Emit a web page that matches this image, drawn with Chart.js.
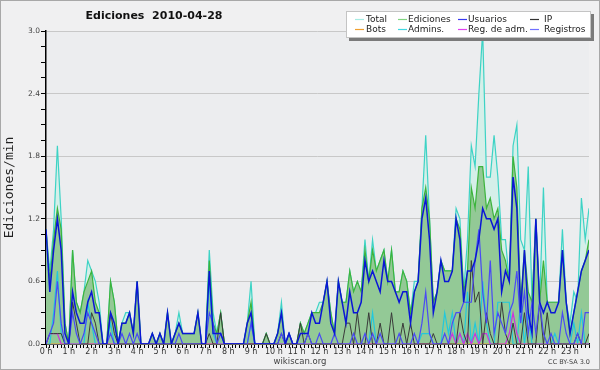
<!DOCTYPE html>
<html>
<head>
<meta charset="utf-8">
<title>Ediciones 2010-04-28</title>
<script src="https://cdn.jsdelivr.net/npm/chart.js@4.4.0/dist/chart.umd.min.js"></script>
<style>
  html, body { margin: 0; padding: 0; background: #f0f0f1; }
  #wrap { width: 600px; height: 370px; }
</style>
</head>
<body>
<div id="wrap"><canvas id="chart" width="600" height="370"></canvas></div>
<script>
// one value per 10 minutes (edits/min), 144 slots
const hourLabels = ['0 h','1 h','2 h','3 h','4 h','5 h','6 h','7 h','8 h','9 h','10 h','11 h',
  '12 h','13 h','14 h','15 h','16 h','17 h','18 h','19 h','20 h','21 h','22 h','23 h'];

const total = [
  1.1,0.7,1.1,1.9,1.2,0.2, 0,0.9,0.4,0.3,0.5,0.8, 0.7,0.6,0.4,0,0,0.6, 0.4,0,0.2,0.3,0.3,0.1,
  0.6,0,0,0,0.1,0, 0.1,0,0.3,0,0.1,0.3, 0.1,0.1,0.1,0.1,0.3,0, 0,0.9,0.3,0.1,0.3,0,
  0,0,0,0,0,0.2, 0.6,0,0,0,0.1,0, 0,0.1,0.4,0,0.1,0, 0,0.2,0.1,0.2,0.3,0.3,
  0.4,0.4,0.6,0.3,0.1,0.6, 0.4,0.4,0.7,0.5,0.6,0.5, 1.0,0.6,1.0,0.7,0.8,0.9, 0.6,0.9,0.5,0.5,0.7,0.6,
  0.3,0.6,0.6,1.3,2.0,1.2, 0.4,0.5,0.8,0.7,0.7,0.7, 1.3,1.2,0.5,1.0,1.9,1.7, 2.4,3.0,1.6,1.6,2.0,1.6,
  1.0,1.0,0.6,1.9,2.1,1.0, 0.9,1.7,0.4,1.2,0.4,1.5, 0.4,0.4,0.4,0.4,1.1,0.4, 0.2,0.5,0.4,1.4,1.0,1.3
];
const ediciones = [
  1.1,0.6,1.0,1.3,1.1,0.2, 0,0.9,0.4,0.3,0.5,0.6, 0.7,0.4,0.3,0,0,0.6, 0.4,0,0.2,0.2,0.3,0.1,
  0.6,0,0,0,0.1,0, 0.1,0,0.3,0,0.1,0.2, 0.1,0.1,0.1,0.1,0.3,0, 0,0.8,0.2,0.1,0.3,0,
  0,0,0,0,0,0.2, 0.4,0,0,0,0.1,0, 0,0.1,0.3,0,0.1,0, 0,0.2,0.1,0.2,0.3,0.3,
  0.3,0.4,0.6,0.3,0.1,0.6, 0.4,0.4,0.7,0.5,0.6,0.5, 0.9,0.6,0.9,0.7,0.8,0.9, 0.6,0.9,0.5,0.5,0.7,0.6,
  0.3,0.5,0.6,1.3,1.5,1.2, 0.4,0.5,0.8,0.7,0.7,0.7, 1.2,1.1,0.5,0.7,1.5,1.3, 1.7,1.7,1.3,1.4,1.2,1.3,
  0.9,0.8,0.6,1.8,1.5,0.4, 0.9,0.5,0.4,1.2,0.4,0.8, 0.4,0.4,0.4,0.4,0.9,0.4, 0.1,0.3,0.5,0.7,0.8,1.0
];
const usuarios = [
  1.1,0.5,0.9,1.2,0.9,0.1, 0,0.5,0.3,0.2,0.2,0.4, 0.5,0.3,0.3,0,0,0.3, 0.2,0,0.2,0.2,0.3,0.1,
  0.6,0,0,0,0.1,0, 0.1,0,0.3,0,0.1,0.2, 0.1,0.1,0.1,0.1,0.3,0, 0,0.7,0.1,0.1,0.1,0,
  0,0,0,0,0,0.2, 0.3,0,0,0,0,0, 0,0.1,0.3,0,0.1,0, 0,0.1,0.1,0.1,0.3,0.2,
  0.2,0.4,0.6,0.2,0.1,0.6, 0.4,0.2,0.5,0.3,0.3,0.4, 0.8,0.6,0.7,0.6,0.5,0.8, 0.6,0.6,0.5,0.4,0.5,0.5,
  0.2,0.5,0.6,1.2,1.4,1.0, 0.3,0.5,0.8,0.6,0.6,0.7, 1.2,1.0,0.4,0.7,0.7,0.8, 1.0,1.3,1.2,1.2,1.1,1.2,
  0.5,0.7,0.6,1.6,1.3,0.3, 0.9,0.3,0.1,1.2,0.4,0.3, 0.4,0.3,0.3,0.4,0.9,0.4, 0.1,0.3,0.5,0.7,0.8,0.9
];
const ip = [
  0,0.1,0.1,0.1,0.1,0, 0,0.4,0.2,0,0,0, 0.3,0.2,0,0,0,0.3, 0.1,0,0,0,0,0,
  0,0,0,0,0,0, 0,0,0,0,0,0, 0,0,0,0,0,0, 0,0.1,0,0,0.3,0,
  0,0,0,0,0,0, 0,0,0,0,0.1,0, 0,0,0.1,0,0,0, 0,0.2,0,0.1,0,0,
  0,0,0,0,0,0, 0,0.2,0.2,0,0.3,0, 0,0.3,0,0,0.2,0, 0,0.3,0,0,0.2,0,
  0.2,0,0,0,0,0, 0.1,0,0,0,0,0, 0,0.3,0.1,0,0.8,0.4, 0.5,0,0.3,0.1,0,0,
  0.4,0.1,0,0.2,0,0, 0.3,0,0,0,0.4,0, 0.3,0,0,0,0,0, 0,0,0.1,0,0,0.1
];
const bots = [
  0,0,0,0,0,0, 0,0,0,0,0,0, 0,0,0,0,0,0, 0,0,0,0,0,0,
  0,0,0,0,0,0, 0,0,0,0,0,0, 0,0,0,0,0,0, 0,0,0,0,0,0,
  0,0,0,0,0,0, 0,0,0,0,0,0, 0,0,0,0,0,0, 0,0,0,0,0,0,
  0,0,0,0,0,0, 0,0,0,0,0,0, 0,0,0,0,0,0, 0,0,0,0,0,0,
  0,0,0,0,0,0, 0,0,0,0,0,0, 0,0,0,0,0,0, 0,0,0,0,0,0,
  0,0,0,0,0,0, 0,0,0,0,0,0, 0,0,0,0,0,0, 0,0,0,0,0,0
];
const admins = [
  0,0,0.3,0.7,0.1,0, 0,0,0,0,0,0.4, 0.2,0,0,0,0,0.2, 0,0,0,0,0,0,
  0,0,0,0,0,0, 0,0,0,0,0,0, 0,0,0,0,0,0, 0,0.6,0.1,0,0,0,
  0,0,0,0,0,0, 0.2,0,0,0,0,0, 0,0,0,0,0,0, 0,0,0,0,0,0,
  0,0,0,0,0,0, 0,0,0,0,0,0, 0,0,0.3,0,0,0, 0,0,0,0,0,0,
  0,0,0,0.1,0.1,0.1, 0,0,0,0.3,0.1,0.3, 0,0.1,0,0.5,0,0.2, 0,0.6,0.2,0,0,0.4,
  0.4,0.4,0.4,0,0,0.4, 0,0.3,0,0,0,0, 0,0,0.1,0,0,0, 0,0.2,0,0.3,0,0
];
const regAdm = [
  0,0.1,0.1,0.1,0,0, 0,0,0,0,0,0, 0,0,0,0,0,0, 0,0,0,0,0,0,
  0,0,0,0,0,0, 0,0,0,0,0,0, 0,0,0,0,0,0, 0,0,0,0,0,0,
  0,0,0,0,0,0, 0,0,0,0,0,0, 0,0,0,0,0,0, 0,0,0,0,0,0,
  0,0,0,0,0,0, 0,0,0,0,0,0, 0,0,0,0,0,0, 0,0,0,0,0,0,
  0,0,0,0,0,0, 0,0,0,0,0,0.1, 0,0.1,0,0.1,0,0.1, 0,0.1,0.1,0,0,0,
  0,0,0.1,0.3,0.1,0, 0,0,0,0,0,0, 0,0,0,0,0,0, 0,0,0,0,0,0
];
const registros = [
  0,0.1,0.2,0.6,0.2,0, 0,0.3,0.1,0,0.1,0.3, 0.2,0.1,0,0,0,0.1, 0,0,0.1,0,0.1,0,
  0.1,0,0,0,0,0, 0,0,0,0,0,0.1, 0,0,0,0,0,0, 0,0.3,0.2,0,0.1,0,
  0,0,0,0,0,0, 0.2,0,0,0,0,0, 0,0,0.1,0,0.1,0, 0,0,0,0.1,0,0,
  0.1,0,0,0,0.1,0, 0,0,0,0.1,0,0, 0.1,0,0.1,0,0.1,0, 0,0,0,0.1,0,0,
  0,0.1,0,0.2,0.5,0.1, 0,0,0,0.1,0,0.2, 0.3,0.3,0.4,0.4,0.4,0.8, 1.1,0.5,0.2,0.8,0.1,0.3,
  0.2,0.1,0.3,0.4,0.7,0.2, 0.5,0.1,0.4,0.1,0.4,0.1, 0,0.1,0,0,0.3,0.1, 0,0,0.1,0,0.3,0.3
];

const yTicks = [0, 0.6, 1.2, 1.8, 2.4, 3.0];

const pts = arr => arr.map((v, i) => ({ x: i, y: v }));
const isMajor = v => yTicks.some(t => Math.abs(t - v) < 1e-6);

function line(label, data, color, legendColor, width, order, extra) {
  return Object.assign({
    label, data: pts(data), borderColor: color, legendColor,
    borderWidth: width, pointRadius: 0, tension: 0, fill: false, order
  }, extra || {});
}

const datasets = [
  line('Total', total, '#3dd3c5', '#a6ece3', 1.2, 10,
       { fill: 'origin', backgroundColor: '#d5efe9' }),
  line('Ediciones', ediciones, '#3cb43c', '#80d480', 1.2, 9,
       { fill: 'origin', backgroundColor: '#93c996' }),
  line('Usuarios', usuarios, '#0a16d6', '#3838f0', 1.5, 0),
  line('IP', ip, '#3a3a3a', '#333333', 1, 3),
  line('Bots', bots, '#f0a030', '#f0a030', 1, 6),
  line('Admins.', admins, '#22c8dc', '#40d8e2', 1.2, 5),
  line('Reg. de adm.', regAdm, '#cc33dd', '#e040f0', 1.2, 4),
  line('Registros', registros, '#4a4af5', '#7070ff', 1.2, 2)
];

const decor = {
  id: 'decor',
  beforeDraw(chart) {
    const { ctx, chartArea: a } = chart;
    ctx.save();
    ctx.fillStyle = '#f0f0f1';
    ctx.fillRect(0, 0, chart.width, chart.height);
    ctx.fillStyle = '#ecedef';
    ctx.fillRect(a.left, a.top, a.right - a.left, a.bottom - a.top);
    ctx.restore();
  },
  afterDraw(chart) {
    const { ctx } = chart;
    ctx.save();
    ctx.textBaseline = 'middle';

    // title
    ctx.fillStyle = '#111';
    ctx.font = 'bold 11px "DejaVu Sans"';
    ctx.textAlign = 'center';
    ctx.fillText('Ediciones  2010-04-28', 154, 16);

    // legend box, 4 columns x 2 rows
    ctx.fillStyle = '#7a7a7a';
    ctx.fillRect(349, 14, 245, 27);
    ctx.fillStyle = '#ffffff';
    ctx.fillRect(346, 11, 245, 27);
    ctx.strokeStyle = '#c4c4c4';
    ctx.lineWidth = 1;
    ctx.strokeRect(346.5, 11.5, 244, 26);
    const cols = [[355, 366], [398, 408], [458, 468], [530, 544]];
    const rows = [19.5, 29.5];
    ctx.font = '9px "DejaVu Sans"';
    ctx.textAlign = 'left';
    chart.data.datasets.forEach((ds, i) => {
      const [sx, tx] = cols[i % 4];
      const y = rows[Math.floor(i / 4)];
      ctx.strokeStyle = ds.legendColor;
      ctx.lineWidth = 1.2;
      ctx.beginPath();
      ctx.moveTo(sx, y);
      ctx.lineTo(sx + 9, y);
      ctx.stroke();
      ctx.fillStyle = '#222';
      ctx.fillText(ds.label, tx, y + 0.5);
    });

    // footer
    ctx.fillStyle = '#444';
    ctx.textAlign = 'center';
    ctx.font = '8.5px "DejaVu Sans"';
    ctx.fillText('wikiscan.org', 300, 362);
    ctx.textAlign = 'right';
    ctx.font = '6.5px "DejaVu Sans"';
    ctx.fillText('CC BY-SA 3.0', 590, 362);

    // frame
    ctx.strokeStyle = '#a8a8a8';
    ctx.lineWidth = 1;
    ctx.strokeRect(0.5, 0.5, chart.width - 1, chart.height - 1);
    ctx.restore();
  }
};

new Chart(document.getElementById('chart'), {
  type: 'line',
  data: { datasets },
  plugins: [decor],
  options: {
    responsive: false,
    animation: false,
    layout: { padding: { left: 0, top: 31, right: 11, bottom: 0 } },
    plugins: { legend: { display: false }, title: { display: false }, tooltip: { enabled: false } },
    scales: {
      x: {
        type: 'linear', min: 0, max: 143,
        afterFit: s => { s.height = 26; },
        border: { color: '#000', width: 1.5 },
        grid: { drawOnChartArea: false, drawTicks: true, tickLength: 4, tickColor: '#000' },
        ticks: {
          stepSize: 1, autoSkip: false, maxTicksLimit: 1000, maxRotation: 0, padding: -1,
          color: '#333', font: { family: 'DejaVu Sans', size: 8 },
          callback: v => (v % 6 === 0 && v / 6 < hourLabels.length) ? hourLabels[v / 6] : ''
        }
      },
      y: {
        min: 0, max: 3,
        afterFit: s => { s.width = 46; },
        border: { color: '#000', width: 1.5 },
        grid: {
          color: ctx => (ctx.tick && isMajor(ctx.tick.value)) ? '#c8c8c8' : 'rgba(0,0,0,0)',
          tickColor: '#000', tickLength: 5
        },
        ticks: {
          stepSize: 0.15, maxTicksLimit: 100, padding: 1,
          color: '#444', font: { family: 'DejaVu Sans', size: 7.5 },
          callback: v => isMajor(v) ? v.toFixed(1) : ''
        },
        title: {
          display: true, text: 'Ediciones/min', color: '#222',
          font: { family: 'DejaVu Sans Mono', size: 13 },
          padding: { top: 2, bottom: 0 }
        }
      }
    }
  }
});
</script>
</body>
</html>
